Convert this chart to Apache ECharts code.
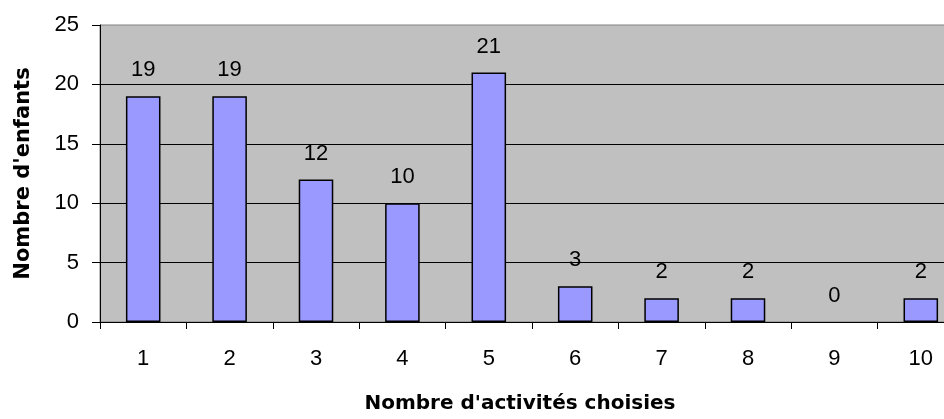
<!DOCTYPE html>
<html><head><meta charset="utf-8">
<script src="https://cdn.jsdelivr.net/npm/echarts@6/dist/echarts.min.js"></script>
<style>html,body{margin:0;padding:0;background:#fff;overflow:hidden}#c{width:964px;height:419px}</style>
</head><body><div id="c"></div>
<script>
const categories = ['1','2','3','4','5','6','7','8','9','10'];
const values = [19,19,12,10,21,3,2,2,0,2];
const yTitle = "Nombre d'enfants";
const xTitle = "Nombre d'activités choisies";

const chart = echarts.init(document.getElementById('c'), null, {renderer:'canvas'});
const font = 'Liberation Sans, Arial, sans-serif';
const tfont = 'DejaVu Sans, sans-serif';
chart.setOption({
  animation:false,
  grid:{left:100,right:0,top:25,bottom:93,show:true,backgroundColor:'#C0C0C0',borderColor:'#808080',borderWidth:1},
  xAxis:{type:'category',data:categories,boundaryGap:true,
    axisLine:{lineStyle:{color:'#000',width:1}},
    axisTick:{show:true,length:7,lineStyle:{color:'#000'}},
    axisLabel:{color:'#000',fontSize:22,fontFamily:font,margin:26},
    name:xTitle,nameLocation:'middle',nameGap:72,
    nameTextStyle:{color:'#000',fontSize:20,fontWeight:'bold',fontFamily:tfont,padding:[0,24,0,0]}},
  yAxis:{type:'value',min:0,max:25,interval:5,
    axisLine:{show:true,lineStyle:{color:'#000',width:1}},
    axisTick:{show:true,length:8,lineStyle:{color:'#000'}},
    axisLabel:{color:'#000',fontSize:22,fontFamily:font,margin:21},
    splitLine:{show:true,showMaxLine:false,lineStyle:{color:'#000',width:1}},
    name:yTitle,nameLocation:'middle',nameGap:66,
    nameTextStyle:{color:'#000',fontSize:21,fontWeight:'bold',fontFamily:tfont}},
  series:[{type:'bar',barWidth:'40%',
    data:values.map(v=>({value:v,itemStyle:v===0?{borderWidth:0}:{}})),
    itemStyle:{color:'#9999FF',borderColor:'#000',borderWidth:1.5},
    label:{show:true,position:'top',distance:15,color:'#000',fontSize:22,fontFamily:font}}]
});
</script></body></html>
